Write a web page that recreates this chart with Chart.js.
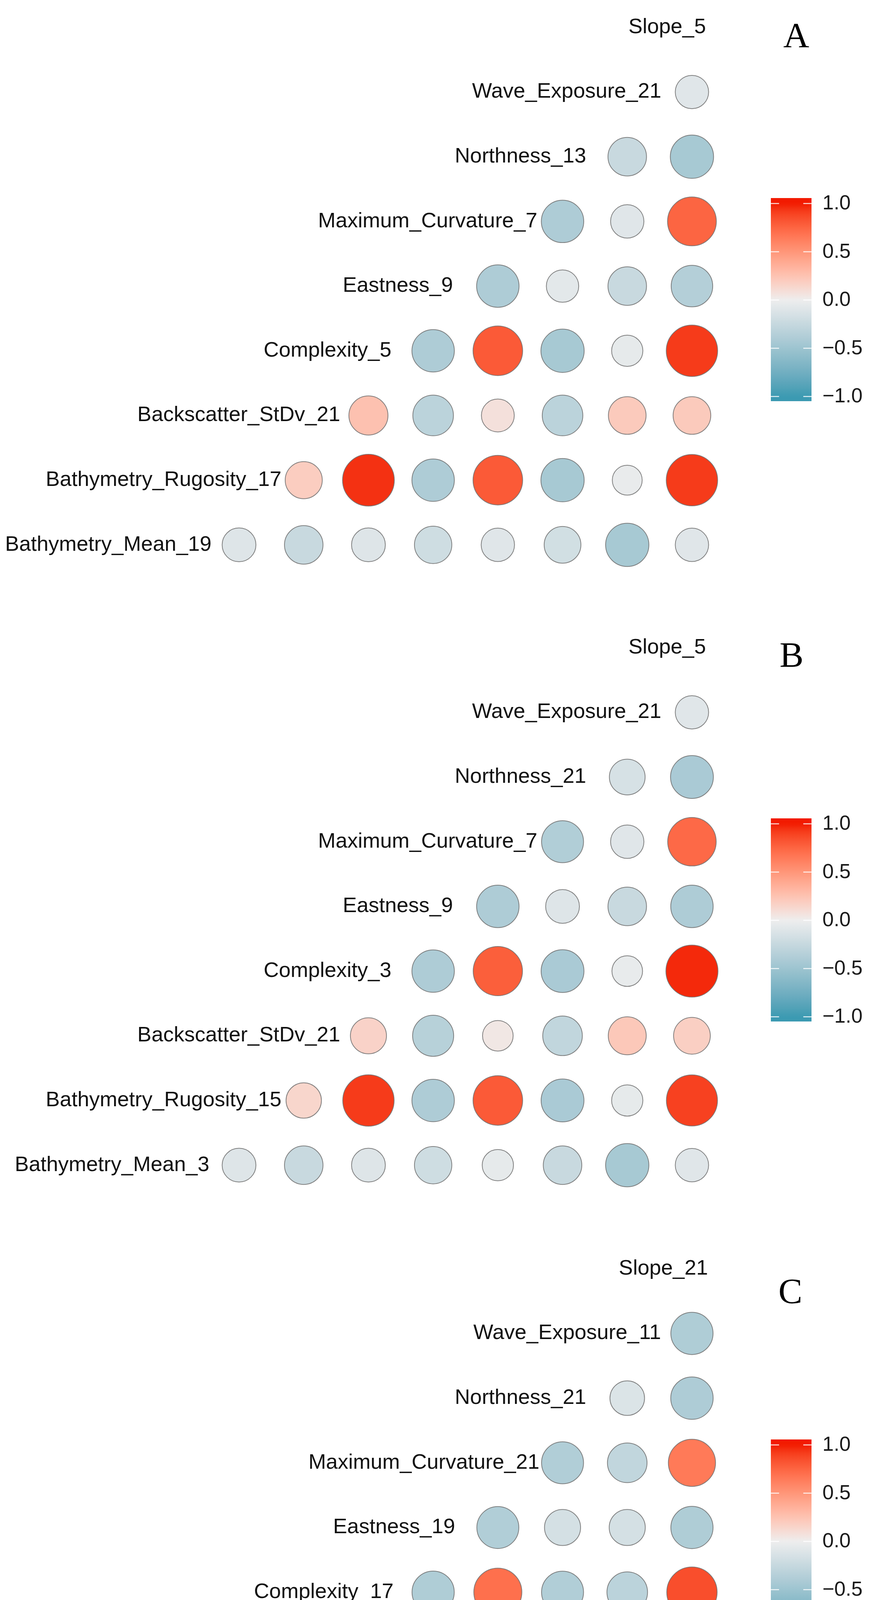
<!DOCTYPE html>
<html>
<head>
<meta charset="utf-8">
<script src="https://cdn.jsdelivr.net/npm/chart.js@4.4.1/dist/chart.umd.min.js"></script>
<style>
  html, body { margin: 0; padding: 0; background: #fff; }
  body { width: 2260px; height: 4675px; position: relative; overflow: hidden; }
  .panel { position: absolute; left: 0; width: 2260px; height: 1497px; }
</style>
</head>
<body>
<div class="panel" style="top:0px"><canvas id="chartA" width="2260" height="1497"></canvas></div>
<div class="panel" style="top:1588px"><canvas id="chartB" width="2260" height="1497"></canvas></div>
<div class="panel" style="top:3178px"><canvas id="chartC" width="2260" height="1497"></canvas></div>
<script>
// variable labels, top row to bottom row
const namesA = ["Slope_5", "Wave_Exposure_21", "Northness_13", "Maximum_Curvature_7", "Eastness_9",
  "Complexity_5", "Backscatter_StDv_21", "Bathymetry_Rugosity_17", "Bathymetry_Mean_19"];
const namesB = ["Slope_5", "Wave_Exposure_21", "Northness_21", "Maximum_Curvature_7", "Eastness_9",
  "Complexity_3", "Backscatter_StDv_21", "Bathymetry_Rugosity_15", "Bathymetry_Mean_3"];
const namesC = ["Slope_21", "Wave_Exposure_11", "Northness_21", "Maximum_Curvature_21", "Eastness_19",
  "Complexity_17", "Backscatter_StDv_21", "Bathymetry_Rugosity_19", "Bathymetry_Mean_3"];

// correlations, rows 2..9 (the first row has no circles), each row read left to right
const corrA = [
  [-0.09],
  [-0.24, -0.44],
  [-0.40, -0.09, 0.75],
  [-0.40, -0.07, -0.24, -0.36],
  [-0.40, 0.80, -0.44, -0.05, 0.92],
  [0.26, -0.32, 0.08, -0.32, 0.21, 0.21],
  [0.19, 0.95, -0.40, 0.80, -0.44, -0.03, 0.92],
  [-0.10, -0.24, -0.10, -0.20, -0.09, -0.18, -0.44, -0.09],
];
const corrB = [
  [-0.09],
  [-0.15, -0.42],
  [-0.38, -0.09, 0.73],
  [-0.40, -0.10, -0.24, -0.40],
  [-0.40, 0.78, -0.42, -0.04, 0.97],
  [0.16, -0.34, 0.04, -0.28, 0.22, 0.18],
  [0.14, 0.92, -0.40, 0.80, -0.42, -0.05, 0.90],
  [-0.10, -0.24, -0.10, -0.20, -0.05, -0.24, -0.44, -0.09],
];
const corrC = [
  [-0.39],
  [-0.12, -0.40],
  [-0.38, -0.28, 0.65],
  [-0.38, -0.16, -0.16, -0.39],
  [-0.39, 0.70, -0.38, -0.32, 0.85],
  [0.34, -0.34, 0.14, -0.30, 0.16, 0.27],
  [0.18, 0.68, -0.39, 0.80, -0.40, -0.10, 0.72],
  [-0.10, -0.28, -0.10, -0.18, -0.05, -0.24, -0.44, -0.02],
];

const legendTicks = [1.0, 0.5, 0.0, -0.5, -1.0];

// layout
const W = 2260, H = 1497;
const CELL = 165.6;   // grid step in px
const X0 = 446.2;     // px centre of column 0
const Y0 = 70;        // px centre of the top row
const SANS = "'Liberation Sans', Arial, sans-serif";

// colour scale: low / mid / high, interpolated in Lab like ggplot
const LOW = "#3B9AB2", MID = "#EEEEEE", HIGH = "#F21A00";

function hexToLab(hex) {
  const c = [1, 3, 5].map(i => parseInt(hex.substr(i, 2), 16) / 255)
    .map(v => v <= 0.04045 ? v / 12.92 : Math.pow((v + 0.055) / 1.055, 2.4));
  const X = (0.4124 * c[0] + 0.3576 * c[1] + 0.1805 * c[2]) / 0.95047;
  const Y = 0.2126 * c[0] + 0.7152 * c[1] + 0.0722 * c[2];
  const Z = (0.0193 * c[0] + 0.1192 * c[1] + 0.9505 * c[2]) / 1.08883;
  const f = t => t > 0.008856 ? Math.cbrt(t) : 7.787 * t + 16 / 116;
  return [116 * f(Y) - 16, 500 * (f(X) - f(Y)), 200 * (f(Y) - f(Z))];
}

function labToRgb(lab) {
  const fy = (lab[0] + 16) / 116, fx = fy + lab[1] / 500, fz = fy - lab[2] / 200;
  const inv = f => f * f * f > 0.008856 ? f * f * f : (f - 16 / 116) / 7.787;
  const X = inv(fx) * 0.95047, Y = inv(fy), Z = inv(fz) * 1.08883;
  const lin = [
    3.2406 * X - 1.5372 * Y - 0.4986 * Z,
    -0.9689 * X + 1.8758 * Y + 0.0415 * Z,
    0.0557 * X - 0.2040 * Y + 1.0570 * Z,
  ];
  const rgb = lin.map(v => {
    const s = v <= 0.0031308 ? 12.92 * v : 1.055 * Math.pow(v, 1 / 2.4) - 0.055;
    return Math.round(Math.min(1, Math.max(0, s)) * 255);
  });
  return "rgb(" + rgb.join(",") + ")";
}

const labLow = hexToLab(LOW), labMid = hexToLab(MID), labHigh = hexToLab(HIGH);

function fillFor(v) {
  const t = Math.min(1, Math.abs(v));
  const end = v < 0 ? labLow : labHigh;
  return labToRgb(labMid.map((m, i) => m + (end[i] - m) * t));
}

// area scale: radius grows with sqrt(|r|)
function radiusFor(v) {
  return CELL * (0.1945 + 0.211 * Math.sqrt(Math.abs(v)));
}

// labels sit on the diagonal, anchored 82% along the text
const diagLabels = {
  id: "diagLabels",
  afterDatasetsDraw(chart, args, opts) {
    const { ctx, scales: { x, y } } = chart;
    ctx.save();
    ctx.font = "54px " + SANS;
    ctx.fillStyle = "#111";
    ctx.textBaseline = "middle";
    ctx.textAlign = "left";
    opts.names.forEach((name, i) => {
      const w = ctx.measureText(name).width;
      ctx.fillText(name, x.getPixelForValue(8 - i) - 0.82 * w, y.getPixelForValue(i));
    });
    ctx.font = "92px 'Liberation Serif', 'Times New Roman', serif";
    ctx.fillStyle = "#000";
    ctx.textAlign = "center";
    ctx.textBaseline = "alphabetic";
    ctx.fillText(opts.letter, opts.letterX, opts.letterY);
    ctx.restore();
  },
};

// colour bar legend
const colourBar = {
  id: "colourBar",
  afterDraw(chart) {
    const ctx = chart.ctx;
    const left = 1973, right = 2077;
    const yTop = 521, yBottom = 1015;            // px of +1 and -1
    const yOf = v => yTop + (1 - v) / 2 * (yBottom - yTop);
    const barTop = yTop - 14, barBottom = yBottom + 12;
    const grad = ctx.createLinearGradient(0, barTop, 0, barBottom);
    for (let s = 0; s <= 60; s++) {
      const py = barTop + (barBottom - barTop) * s / 60;
      const v = Math.max(-1, Math.min(1, 1 - 2 * (py - yTop) / (yBottom - yTop)));
      grad.addColorStop(s / 60, fillFor(v));
    }
    ctx.save();
    ctx.fillStyle = grad;
    ctx.fillRect(left, barTop, right - left, barBottom - barTop);
    ctx.strokeStyle = "rgba(255,255,255,0.85)";
    ctx.lineWidth = 2.5;
    ctx.font = "52px " + SANS;
    ctx.fillStyle = "#1a1a1a";
    ctx.textAlign = "left";
    ctx.textBaseline = "middle";
    legendTicks.forEach(v => {
      const py = yOf(v);
      ctx.beginPath();
      ctx.moveTo(left, py); ctx.lineTo(left + 21, py);
      ctx.moveTo(right - 21, py); ctx.lineTo(right, py);
      ctx.stroke();
      const txt = (v < 0 ? "\u2212" : "") + Math.abs(v).toFixed(1);
      ctx.fillText(txt, 2105, py + 1);
    });
    ctx.restore();
  },
};

function makePanel(id, names, corr, letter, letterX, letterY) {
  const points = [];
  corr.forEach((row, idx) => {
    const i = idx + 1;
    row.forEach((v, k) => points.push({ x: 9 - i + k, y: i, v: v }));
  });
  const xMin = -X0 / CELL, yMin = -Y0 / CELL;
  return new Chart(document.getElementById(id), {
    type: "bubble",
    data: {
      datasets: [{
        data: points,
        radius: c => radiusFor(c.raw.v),
        backgroundColor: c => fillFor(c.raw.v),
        borderColor: "rgba(110,110,110,0.85)",
        borderWidth: 2,
        clip: false,
      }],
    },
    options: {
      responsive: false,
      animation: false,
      devicePixelRatio: 1,
      events: [],
      layout: { padding: 0, autoPadding: false },
      scales: {
        x: { type: "linear", display: false, min: xMin, max: xMin + W / CELL },
        y: { type: "linear", display: false, reverse: true, min: yMin, max: yMin + H / CELL },
      },
      plugins: {
        legend: { display: false },
        tooltip: { enabled: false },
        diagLabels: { names: names, letter: letter, letterX: letterX, letterY: letterY },
      },
    },
    plugins: [diagLabels, colourBar],
  });
}

makePanel("chartA", namesA, corrA, "A", 2038, 121);
makePanel("chartB", namesB, corrB, "B", 2026, 119);
makePanel("chartC", namesC, corrC, "C", 2023, 158);
</script>
</body>
</html>
